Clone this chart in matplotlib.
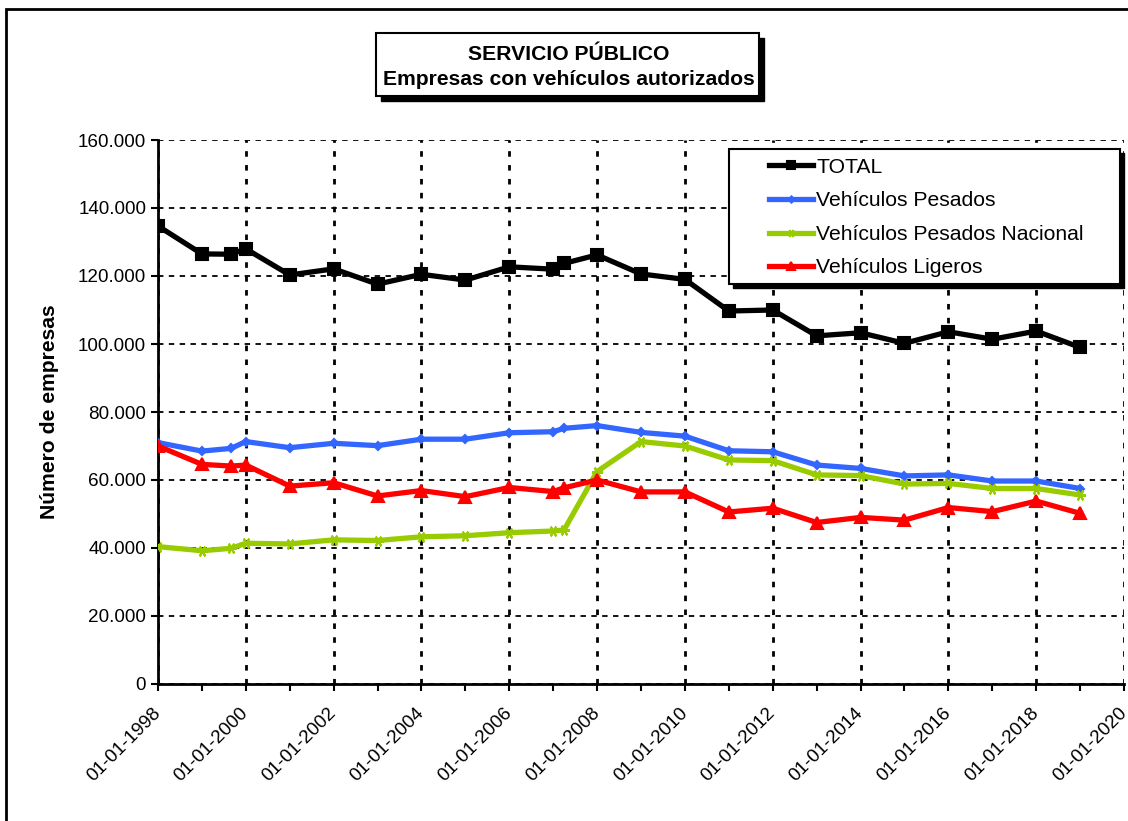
import matplotlib
matplotlib.use('Agg')
import matplotlib.pyplot as plt
import matplotlib.dates as mdates
import matplotlib.ticker as mticker
from matplotlib.patches import Rectangle
import pandas as pd

plt.rcParams['font.family'] = ['Liberation Sans', 'DejaVu Sans']

fechas = ['1998-01-01', '1999-01-01', '1999-09-01', '2000-01-01', '2001-01-01',
          '2002-01-01', '2003-01-01', '2004-01-01', '2005-01-01', '2006-01-01',
          '2007-01-01', '2007-04-01', '2008-01-01', '2009-01-01', '2010-01-01',
          '2011-01-01', '2012-01-01', '2013-01-01', '2014-01-01', '2015-01-01',
          '2016-01-01', '2017-01-01', '2018-01-01', '2019-01-01']
total = [134700, 126500, 126400, 128000, 120300, 122100, 117600, 120500, 118800, 122700,
         122000, 123700, 126200, 120600, 119000, 109700, 110000, 102400, 103300, 100200,
         103600, 101400, 103800, 99000]
pesados = [71000, 68500, 69300, 71300, 69500, 70800, 70100, 72000, 72000, 73900,
           74200, 75200, 76000, 74000, 72900, 68600, 68300, 64400, 63400, 61200,
           61500, 59700, 59700, 57500]
pesados_nac = [40400, 39200, 39900, 41400, 41200, 42400, 42200, 43300, 43600, 44500,
               45000, 45300, 62500, 71300, 70000, 65900, 65700, 61500, 61300, 58800,
               59000, 57500, 57500, 55600]
ligeros = [70000, 64600, 64100, 64400, 58200, 59200, 55300, 56900, 55100, 57800,
           56600, 57700, 60000, 56500, 56500, 50600, 51700, 47500, 49000, 48200,
           51900, 50700, 53800, 50200]

series = [
    ('TOTAL', total, 'black', 's', 8),
    ('Vehículos Pesados', pesados, '#3366ff', 'D', 4.5),
    ('Vehículos Pesados Nacional', pesados_nac, '#99cc00', (6, 2, 30), 8),
    ('Vehículos Ligeros', ligeros, '#ff0000', '^', 8),
]

x = pd.to_datetime(fechas)
W, H = 1128, 821
fig = plt.figure(figsize=(W / 100, H / 100), dpi=100)
ax = fig.add_axes([158 / W, 1 - 684 / H, (1124 - 158) / W, (684 - 140) / H])

handles = []
for name, vals, col, mk, ms in series:
    ln, = ax.plot(x, vals, color=col, lw=3.8, marker=mk, markersize=ms,
                  markeredgecolor=col, markeredgewidth=1.5, zorder=3)
    handles.append(ln)

ax.set_xlim(pd.Timestamp('1998-01-01'), pd.Timestamp('2020-01-01'))
ax.set_ylim(0, 160000)
ax.xaxis.set_major_locator(mdates.YearLocator(2))
ax.xaxis.set_minor_locator(mdates.YearLocator(1))
ax.xaxis.set_major_formatter(mdates.DateFormatter('%d-%m-%Y'))
ax.yaxis.set_major_locator(mticker.MultipleLocator(20000))
ax.yaxis.set_major_formatter(mticker.FuncFormatter(lambda v, p: f'{int(v):,}'.replace(',', '.')))

for s in ['top', 'right']:
    ax.spines[s].set_visible(False)
for s in ['left', 'bottom']:
    ax.spines[s].set_linewidth(2)
ax.tick_params(axis='both', which='major', direction='out', length=5, width=1.5,
               labelsize=13.6, colors='black')
ax.tick_params(axis='x', which='minor', direction='out', length=5, width=1.5)
ax.tick_params(axis='x', which='major', pad=14)
for lbl in ax.get_xticklabels():
    lbl.set_rotation(45)
    lbl.set_ha('right')
    lbl.set_va('center')
    lbl.set_rotation_mode('anchor')

ax.grid(axis='y', color='black', linestyle=(0, (3, 3)), linewidth=1.3)
ax.grid(axis='x', which='major', color='black', linestyle=(0, (2, 3)), linewidth=2)
ax.set_axisbelow(True)

ax.set_ylabel('Número de empresas', fontsize=15.2, fontweight='bold', labelpad=14)

# marco exterior
fig.patches.append(Rectangle((6 / W, -0.05), 1.1, 1 - 9 / H + 0.05, transform=fig.transFigure,
                             fill=False, edgecolor='black', linewidth=2, zorder=0))

# caja del titulo con sombra
fig.patches.append(Rectangle((381 / W, 1 - 101 / H), (759 - 376) / W, (96 - 33) / H,
                             transform=fig.transFigure, facecolor='black', edgecolor='black', zorder=5))
fig.patches.append(Rectangle((376 / W, 1 - 96 / H), (759 - 376) / W, (96 - 33) / H,
                             transform=fig.transFigure, facecolor='white', edgecolor='black',
                             linewidth=1.5, zorder=6))
fig.text(569 / W, 1 - 67 / H, 'SERVICIO PÚBLICO\nEmpresas con vehículos autorizados',
         ha='center', va='center', fontsize=15.2, fontweight='bold', linespacing=1.4, zorder=7)

# caja de leyenda con sombra
fig.patches.append(Rectangle((733 / W, 1 - 288 / H), (1120 - 729) / W, (284 - 149) / H,
                             transform=fig.transFigure, facecolor='black', edgecolor='black', zorder=5))
fig.patches.append(Rectangle((729 / W, 1 - 284 / H), (1120 - 729) / W, (284 - 149) / H,
                             transform=fig.transFigure, facecolor='white', edgecolor='black',
                             linewidth=1.5, zorder=6))
leg = fig.legend(handles, [s[0] for s in series], loc='upper left',
                 bbox_to_anchor=(754 / W, 1 - 143 / H), frameon=False,
                 fontsize=15.2, handlelength=2.1, handletextpad=0.15, labelspacing=0.69,
                 borderpad=0.2, markerscale=0.7)
leg.set_zorder(8)

fig.savefig('out.png', dpi=100)
